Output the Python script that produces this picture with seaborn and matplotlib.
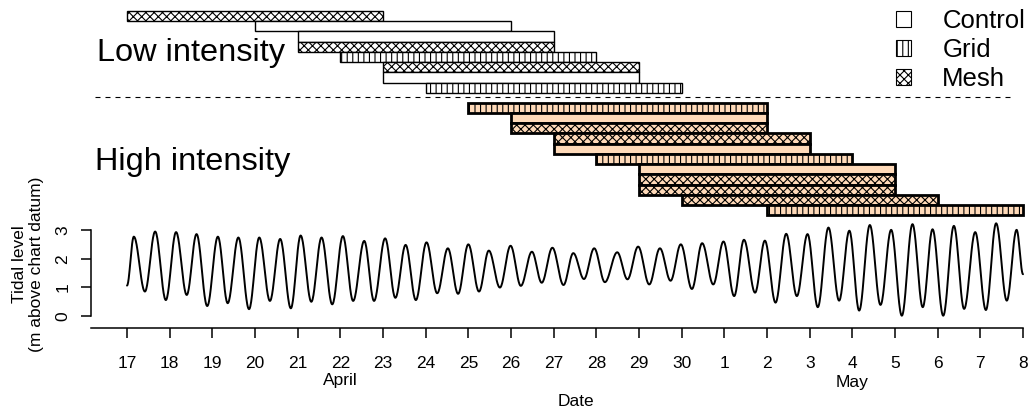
import matplotlib
matplotlib.use('Agg')
import matplotlib.pyplot as plt
from matplotlib.patches import Patch
import seaborn as sns
import pandas as pd
import numpy as np

#%% data
# low intensity trials (top block)
low_treat = ['Mesh', 'Control', 'Control', 'Mesh', 'Grid', 'Mesh', 'Control', 'Grid']
low_start = ['04-17', '04-20', '04-21', '04-21', '04-22', '04-23', '04-23', '04-24']
low_end = ['04-23', '04-26', '04-27', '04-27', '04-28', '04-29', '04-29', '04-30']

# high intensity trials (second block)
high_treat = ['Grid', 'Control', 'Mesh', 'Mesh', 'Control', 'Grid', 'Control', 'Mesh', 'Mesh', 'Mesh', 'Grid']
high_start = ['04-25', '04-26', '04-26', '04-27', '04-27', '04-28', '04-29', '04-29', '04-29', '04-30', '05-02']
high_end = ['05-02', '05-02', '05-02', '05-03', '05-03', '05-04', '05-05', '05-05', '05-05', '05-06', '05-08']

# tide: times in days after 17 April 00:00, heights in m above chart datum
high_t = [0.16, 0.66, 1.15, 1.63, 2.13, 2.61, 3.10, 3.59, 4.07, 4.56, 5.06, 5.56, 6.05, 6.53, 7.02,
          7.52, 8.00, 8.48, 8.99, 9.49, 9.97, 10.46, 10.95, 11.49, 11.98, 12.49, 12.98, 13.48, 13.98,
          14.46, 14.95, 15.45, 15.95, 16.44, 16.93, 17.41, 17.91, 18.41, 18.88, 19.38, 19.88, 20.37, 20.85]
high_h = [2.78, 2.96, 2.94, 2.87, 2.78, 2.75, 2.75, 2.70, 2.82, 2.75, 2.80, 2.63, 2.72, 2.49, 2.58,
          2.37, 2.51, 2.29, 2.46, 2.25, 2.39, 2.20, 2.37, 2.23, 2.43, 2.37, 2.51, 2.55, 2.61,
          2.67, 2.64, 2.88, 2.87, 3.10, 2.99, 3.19, 3.02, 3.22, 3.04, 3.16, 2.94, 3.25, 3.02]
low_t = [0.42, 0.91, 1.40, 1.88, 2.36, 2.86, 3.35, 3.84, 4.32, 4.81, 5.30, 5.79, 6.29, 6.77, 7.27,
         7.76, 8.25, 8.74, 9.23, 9.72, 10.23, 10.71, 11.20, 11.73, 12.24, 12.74, 13.24, 13.74, 14.23,
         14.72, 15.20, 15.70, 16.19, 16.69, 17.16, 17.66, 18.16, 18.65, 19.13, 19.62, 20.13, 20.62]
low_h = [0.85, 0.55, 0.73, 0.34, 0.44, 0.23, 0.52, 0.26, 0.49, 0.40, 0.52, 0.52, 0.63, 0.55, 0.79,
         0.77, 0.85, 0.99, 1.05, 1.16, 1.08, 1.29, 1.18, 1.28, 1.10, 1.23, 0.94, 1.10, 0.69,
         0.81, 0.46, 0.69, 0.30, 0.53, 0.18, 0.38, 0.00, 0.30, 0.00, 0.24, 0.20, 0.53]
tide_start = [0.0, 1.06]
tide_end = [21.0, 1.46]

day_labels = ['17', '18', '19', '20', '21', '22', '23', '24', '25', '26', '27', '28', '29', '30',
              '1', '2', '3', '4', '5', '6', '7', '8']
legend_labels = ['Control', 'Grid', 'Mesh']

#%% prep
origin = pd.Timestamp('2018-04-17')
def to_day(lst):
    return np.array([(pd.Timestamp('2018-' + s) - origin).days for s in lst], dtype=float)

hatches = {'Control': '', 'Grid': '|||', 'Mesh': 'xxxx'}

# smooth tide curve between the read high / low waters
ext = pd.DataFrame({'t': [tide_start[0]] + high_t + low_t + [tide_end[0]],
                    'h': [tide_start[1]] + high_h + low_h + [tide_end[1]]}).sort_values('t')
tt, hh = [], []
et, eh = ext['t'].values, ext['h'].values
for i in range(len(et) - 1):
    s = np.linspace(0, 1, 25)[:-1]
    tt.extend(et[i] + (et[i + 1] - et[i]) * s)
    hh.extend(eh[i] + (eh[i + 1] - eh[i]) * (1 - np.cos(np.pi * s)) / 2)
tt.append(et[-1]); hh.append(eh[-1])
tide = pd.DataFrame({'t': tt, 'h': hh})

#%% plot
sns.set_style('ticks')
plt.rcParams['font.family'] = ['Liberation Sans', 'DejaVu Sans']
plt.rcParams['hatch.linewidth'] = 0.8
plt.rcParams['hatch.color'] = 'black'
for k in ['text.color', 'axes.labelcolor', 'xtick.color', 'ytick.color', 'axes.edgecolor']:
    plt.rcParams[k] = 'black'

W, H = 1031, 415
fig = plt.figure(figsize=(W / 100, H / 100), dpi=100)
x0, x1 = 91, 1027
xlim = ((x0 - 127) / 42.667, (x1 - 127) / 42.667)

# bars panel
ax1 = fig.add_axes([x0 / W, 1 - 218 / H, (x1 - x0) / W, 218 / H])
row_h = 10.25
ax1.set_ylim((218 - 16) / row_h, -16 / row_h)
ax1.set_xlim(xlim)
ax1.axis('off')

ls, le = to_day(low_start), to_day(low_end)
for i, tr in enumerate(low_treat):
    ax1.barh(i, le[i] - ls[i], left=ls[i], height=1, color='white', edgecolor='black',
             hatch=hatches[tr], linewidth=1.0)
hs, he = to_day(high_start), to_day(high_end)
for j, tr in enumerate(high_treat):
    ax1.barh(8.94 + j, he[j] - hs[j], left=hs[j], height=1, color='peachpuff', edgecolor='black',
             hatch=hatches[tr], linewidth=2.0)

ax1.plot([-0.75, 20.7], [7.95, 7.95], color='black', lw=0.8, ls=(0, (4.5, 4.5)))
ax1.text(-0.70, 3.6, 'Low intensity', ha='left', va='center', fontsize=23.4)
ax1.text(-0.75, 14.25, 'High intensity', ha='left', va='center', fontsize=23.4)

handles = [Patch(facecolor='white', edgecolor='black', hatch=hatches[k], lw=0.8) for k in legend_labels]
fig.legend(handles, legend_labels, loc='upper left', bbox_to_anchor=(896 / W, 1 - 9 / H),
           frameon=False, fontsize=18.5, handlelength=0.6, handleheight=0.6, handletextpad=1.2,
           labelspacing=0.2, borderpad=0, borderaxespad=0)

# tide panel
ax2 = fig.add_axes([x0 / W, 1 - 328 / H, (x1 - x0) / W, 108 / H])
sns.lineplot(data=tide, x='t', y='h', color='black', lw=1.4, estimator=None, ax=ax2)
ax2.set_xlim(xlim)
ax2.set_ylim(-(328 - 315.7) / 28.43, (315.7 - 220) / 28.43)
ax2.set_xticks(np.arange(len(day_labels)))
ax2.set_xticklabels(day_labels, fontsize=12.5)
ax2.set_yticks([0, 1, 2, 3])
ax2.set_yticklabels(['0', '1', '2', '3'], fontsize=12.5, rotation=90, va='center')
ax2.tick_params(axis='both', direction='out', length=7, width=1.1, color='black',
                bottom=True, left=True)
ax2.tick_params(axis='x', pad=13)
ax2.tick_params(axis='y', pad=8)
for sp in ['top', 'right']:
    ax2.spines[sp].set_visible(False)
ax2.spines['left'].set_bounds(0, 3)
ax2.spines['bottom'].set_bounds(xlim[0], 21)
for sp in ['left', 'bottom']:
    ax2.spines[sp].set_linewidth(1.1)
ax2.set_xlabel('')
ax2.set_ylabel('')

tr = ax2.get_xaxis_transform()
ax2.text(5, -(381 - 328) / 108, 'April', transform=tr, ha='center', va='center', fontsize=12.5)
ax2.text(17, -(382 - 328) / 108, 'May', transform=tr, ha='center', va='center', fontsize=12.5)
fig.text(576 / W, 1 - 401 / H, 'Date', ha='center', va='center', fontsize=12.5)
fig.text(28 / W, 1 - 264 / H, 'Tidal level\n(m above chart datum)', rotation=90, ha='center',
         va='center', multialignment='center', fontsize=12.5)

plt.savefig('out.png', dpi=100)
